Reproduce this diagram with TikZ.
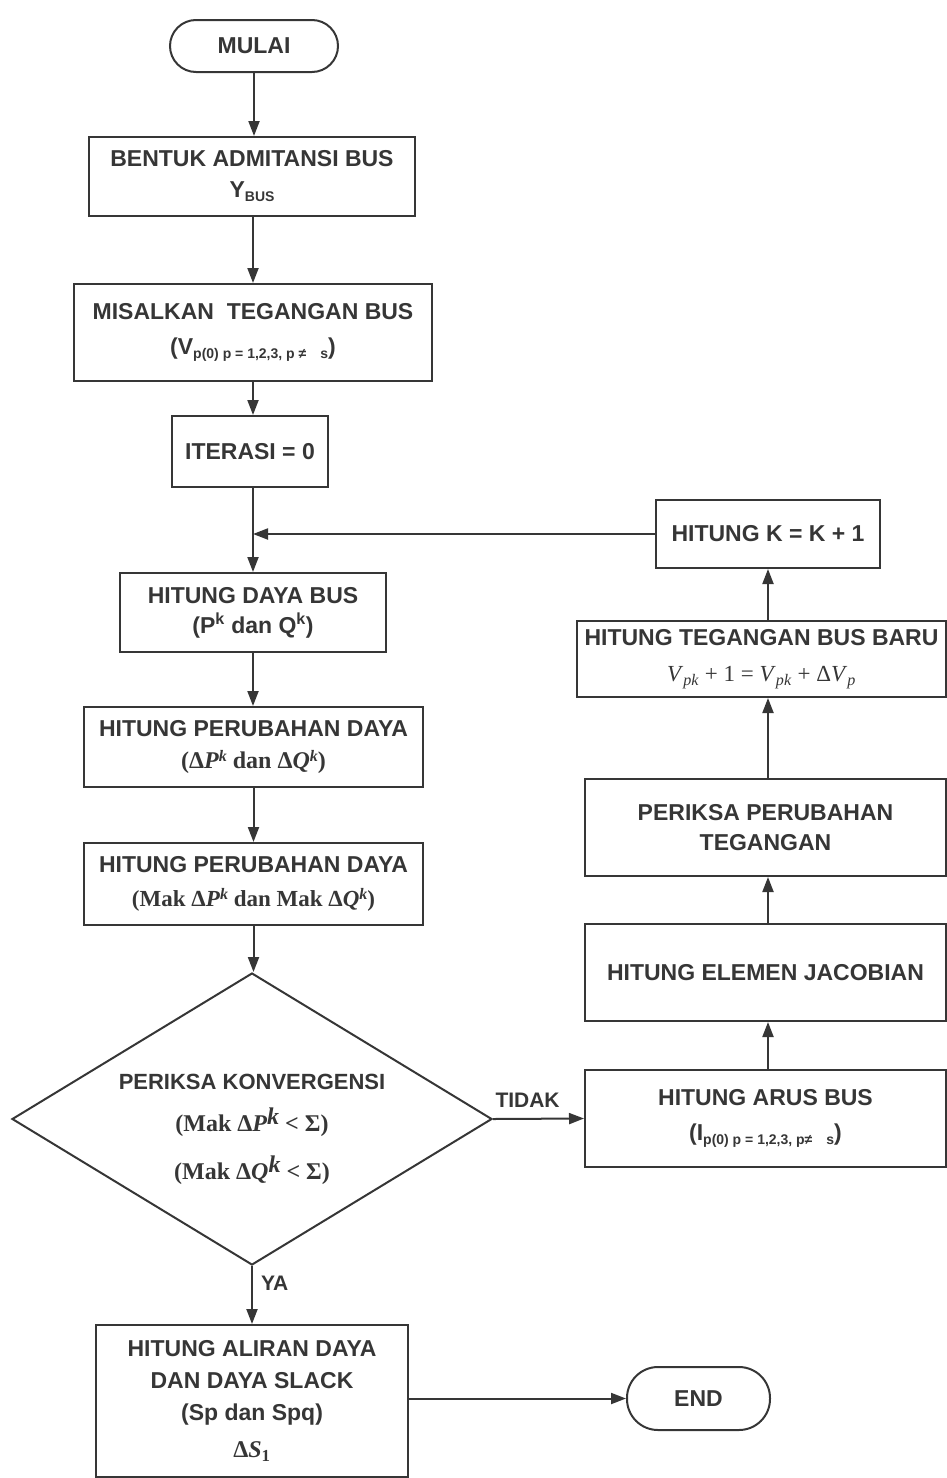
\documentclass[tikz,border=0pt]{standalone}
\usepackage{fontspec}
\setmainfont{Liberation Sans}
\newfontfamily\tms{Liberation Serif}
\usetikzlibrary{arrows.meta,shapes.geometric}
\definecolor{ink}{HTML}{363636}
\newcommand{\smsub}[1]{\raisebox{-4pt}{\fontsize{14}{14}\selectfont #1}}
\newcommand{\tsup}[1]{\raisebox{7pt}{\fontsize{16}{16}\selectfont\textit{#1}}}
\begin{document}
\begin{tikzpicture}[x=1pt,y=-1pt,
  box/.style={draw=ink, line width=2pt, text=ink, font=\bfseries\fontsize{23}{33}\selectfont, align=center, inner sep=0pt},
  term/.style={box, rounded corners=26pt},
  arr/.style={draw=ink, line width=2pt, -{Triangle[width=11pt,length=15pt]}},
  lbl/.style={text=ink, font=\bfseries\fontsize{21}{25}\selectfont, inner sep=0pt},
  mth/.style={text=ink, font=\tms\bfseries\fontsize{24}{28}\selectfont, inner sep=0pt}]
\useasboundingbox (0,0) rectangle (946,1478);

% left column
\node[term, minimum width=168pt, minimum height=52pt] (mulai) at (254,46) {MULAI};
\node[box, minimum width=326pt, minimum height=79pt] (bentuk) at (252,176.5)
  {BENTUK ADMITANSI BUS\\[-2pt] Y\smsub{BUS}};
\node[box, minimum width=358pt, minimum height=97pt] (misal) at (253,332.5)
  {MISALKAN\ \ TEGANGAN BUS\\[2pt] (V\smsub{p(0) p = 1,2,3, p ≠\quad s})};
\node[box, minimum width=156pt, minimum height=71pt] (iter) at (250,451.5) {ITERASI = 0};
\node[box, minimum width=266pt, minimum height=79pt] (daya) at (253,612.5)
  {HITUNG DAYA BUS\\[-3pt] (P\textsuperscript{k} dan Q\textsuperscript{k})};
\node[box, minimum width=339pt, minimum height=80pt] (ubah1) at (253.5,747)
  {HITUNG PERUBAHAN DAYA\\[-1pt] {\tms\fontsize{24}{28}\selectfont (Δ\textit{P}\tsup{k} dan Δ\textit{Q}\tsup{k})}};
\node[box, minimum width=339pt, minimum height=82pt] (ubah2) at (253.5,884)
  {HITUNG PERUBAHAN DAYA\\[1pt] {\tms\fontsize{23}{28}\selectfont (Mak Δ\textit{P}\tsup{k} dan Mak Δ\textit{Q}\tsup{k})}};
\node[diamond, draw=ink, line width=2pt, minimum width=480pt, minimum height=292pt, inner sep=0pt] (konv) at (252,1119) {};
\node[lbl, font=\bfseries\fontsize{22}{26}\selectfont] (kt1) at (252,1082) {PERIKSA KONVERGENSI};
\node[mth] (kt2) at (252,1122) {(Mak Δ\textit{P}\raisebox{7pt}{\textit{k}} < Σ)};
\node[mth] (kt3) at (252,1170) {(Mak Δ\textit{Q}\raisebox{7pt}{\textit{k}} < Σ)};
\node[box, minimum width=312pt, minimum height=152pt] (aliran) at (252,1401)
  {HITUNG ALIRAN DAYA\\[-1pt] DAN DAYA SLACK\\[-1pt] (Sp dan Spq)\\[4pt] {\tms\fontsize{24}{28}\selectfont Δ\textit{S}\textsubscript{1}}};
\node[term, minimum width=143pt, minimum height=63pt, rounded corners=31pt] (end) at (698.5,1398.5) {END};

% right column
\node[box, minimum width=224pt, minimum height=68pt] (kbox) at (768,534) {HITUNG K = K + 1};
\node[box, minimum width=369pt, minimum height=76pt] (baru) at (761.5,659)
  {HITUNG TEGANGAN BUS BARU\\[3pt] {\tms\mdseries\fontsize{23}{26}\selectfont \textit{V}\textsubscript{\textit{pk}} + 1 = \textit{V}\textsubscript{\textit{pk}} + Δ\textit{V}\textsubscript{\textit{p}}}};
\node[box, minimum width=361pt, minimum height=97pt] (periksa) at (765.5,827.5)
  {PERIKSA PERUBAHAN\\[-3pt] TEGANGAN};
\node[box, minimum width=361pt, minimum height=97pt] (jacob) at (765.5,972.5) {HITUNG ELEMEN JACOBIAN};
\node[box, minimum width=361pt, minimum height=97pt] (arus) at (765.5,1118.5)
  {HITUNG ARUS BUS\\[2pt] (I\smsub{p(0) p = 1,2,3, p≠\quad s})};

% connectors
\coordinate (join) at (253,537);
\draw[arr] (mulai.south) -- (mulai.south |- bentuk.north);
\draw[arr] (bentuk.south -| misal.north) -- (misal.north);
\draw[arr] (misal.south) -- (misal.south |- iter.north);
\draw[arr] (iter.south -| daya.north) -- (daya.north);
\draw[arr] (kbox.west) -- (kbox.west -| join);
\draw[arr] (daya.south) -- (daya.south |- ubah1.north);
\draw[arr] (ubah1.south) -- (ubah2.north);
\draw[arr] (ubah2.south) -- (ubah2.south |- konv.north);
\draw[arr] (konv.east) -- (arus.west) node[lbl, pos=0.38, above=10pt] (tidak) {TIDAK};
\draw[arr] (konv.south) -- (konv.south |- aliran.north) node[lbl, pos=0.3, right=8pt] (ya) {YA};
\draw[arr] (aliran.east |- end.west) -- (end.west);
\draw[arr] (arus.north -| kbox.south) -- (jacob.south -| kbox.south);
\draw[arr] (jacob.north -| kbox.south) -- (periksa.south -| kbox.south);
\draw[arr] (periksa.north -| kbox.south) -- (baru.south -| kbox.south);
\draw[arr] (baru.north -| kbox.south) -- (kbox.south);
\end{tikzpicture}
\end{document}
